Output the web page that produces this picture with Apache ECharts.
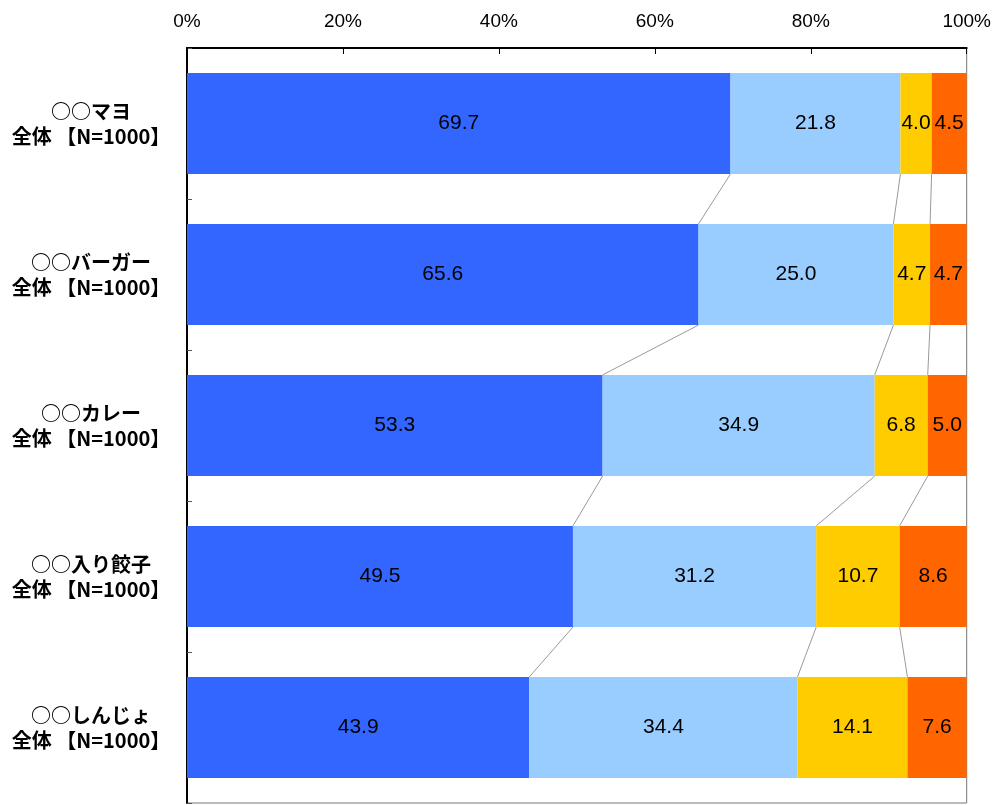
<!DOCTYPE html>
<html><head><meta charset="utf-8">
<script src="https://cdn.jsdelivr.net/npm/echarts@6/dist/echarts.min.js"></script>
<style>html,body{margin:0;padding:0;background:#fff}#c{width:994px;height:805px}</style>
</head><body><div id="c"></div>
<script>
const categories = ['○○マヨ\n全体 【N=1000】','○○バーガー\n全体 【N=1000】','○○カレー\n全体 【N=1000】','○○入り餃子\n全体 【N=1000】','○○しんじょ\n全体 【N=1000】'];
const s1 = [69.7, 65.6, 53.3, 49.5, 43.9];
const s2 = [21.8, 25.0, 34.9, 31.2, 34.4];
const s3 = [4.0, 4.7, 6.8, 10.7, 14.1];
const s4 = [4.5, 4.7, 5.0, 8.6, 7.6];
const xTicks = [0, 20, 40, 60, 80, 100];
const colors = ['#3366FF', '#99CCFF', '#FFCC00', '#FF6600'];

const seriesVals = [s1, s2, s3, s4];
const barFrac = 0.67;
// connector data: [cumTop, catIndex, cumNext]
const connectors = [];
for (let i = 0; i < categories.length - 1; i++) {
  let a = 0, b = 0;
  for (let k = 0; k < seriesVals.length - 1; k++) {
    a += seriesVals[k][i]; b += seriesVals[k][i + 1];
    connectors.push([a, i, b]);
  }
}
const cjk = '"Noto Sans CJK JP", sans-serif';
const num = '"Liberation Sans", Arial, sans-serif';
const chart = echarts.init(document.getElementById('c'));
chart.setOption({
  animation: false,
  grid: {left: 187, right: 27, top: 48, bottom: 2, show: true, borderColor: '#777', borderWidth: 1},
  xAxis: {
    type: 'value', position: 'top', min: xTicks[0], max: xTicks[xTicks.length - 1], interval: xTicks[1] - xTicks[0],
    axisLine: {show: true, lineStyle: {color: '#000', width: 2}},
    axisTick: {show: true, inside: true, length: 6, lineStyle: {color: '#000'}},
    splitLine: {show: false},
    axisLabel: {formatter: '{value}%', color: '#000', fontSize: 19, fontFamily: num, margin: 17}
  },
  yAxis: {
    type: 'category', inverse: true, data: categories,
    axisLine: {show: true, lineStyle: {color: '#000', width: 2}},
    axisTick: {show: true, inside: true, length: 5, lineStyle: {color: '#555'}},
    axisLabel: {color: '#000', fontSize: 20, fontWeight: 'bold', fontFamily: cjk, lineHeight: 25, align: 'center', margin: 96}
  },
  series: seriesVals.map((vals, k) => ({
    type: 'bar', stack: 'total', data: vals, barWidth: (barFrac * 100) + '%',
    itemStyle: {color: colors[k]},
    label: {show: true, position: 'inside', color: '#000', fontSize: 21, fontFamily: num,
      formatter: p => p.value.toFixed(1)}
  })).concat([{
    type: 'custom', data: connectors, encode: {x: [0, 2], y: 1}, silent: true,
    renderItem: (params, api) => {
      const p1 = api.coord([api.value(0), api.value(1)]);
      const p2 = api.coord([api.value(2), api.value(1) + 1]);
      const half = api.size([0, 1])[1] * barFrac / 2;
      return {type: 'line', shape: {x1: p1[0], y1: p1[1] + half, x2: p2[0], y2: p2[1] - half},
        style: {stroke: '#999', lineWidth: 1}};
    }
  }])
});
</script></body></html>
